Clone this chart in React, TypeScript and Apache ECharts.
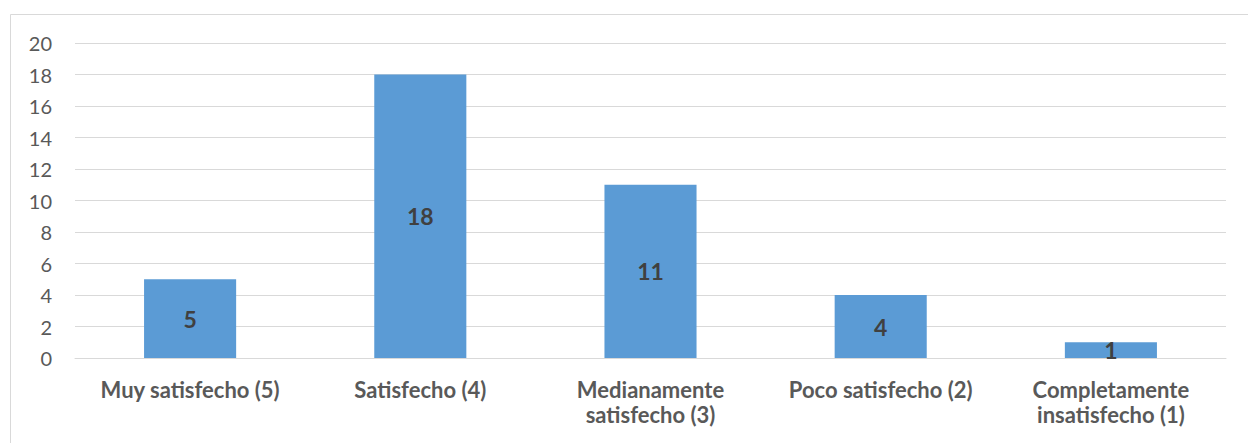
import React, { useEffect, useRef } from "react";
import * as echarts from "echarts";

const categories = [
  "Muy satisfecho (5)",
  "Satisfecho (4)",
  "Medianamente\nsatisfecho (3)",
  "Poco satisfecho (2)",
  "Completamente\ninsatisfecho (1)",
];
const values = [5, 18, 11, 4, 1];
const yTicks = { min: 0, max: 20, interval: 2 };

const FONT = "Lato, 'Open Sans', sans-serif";

export default function App() {
  const ref = useRef<HTMLDivElement>(null);
  useEffect(() => {
    if (!ref.current) return;
    const chart = echarts.init(ref.current, null, { renderer: "svg" });
    chart.setOption({
      animation: false,
      backgroundColor: "#ffffff",
      graphic: [
        {
          type: "rect",
          shape: { x: 10.5, y: 14.5, width: 1250, height: 440 },
          style: { fill: "none", stroke: "#d9d9d9", lineWidth: 1 },
          silent: true,
        },
      ],
      grid: { left: 75, right: 22, top: 43, bottom: 85 },
      xAxis: {
        type: "category",
        data: categories,
        axisLine: { show: true, lineStyle: { color: "#d9d9d9", width: 1 } },
        axisTick: { show: false },
        axisLabel: {
          color: "#595959",
          fontFamily: FONT,
          fontWeight: "bold",
          fontSize: 22,
          lineHeight: 25,
          margin: 19,
          interval: 0,
        },
      },
      yAxis: {
        type: "value",
        min: yTicks.min,
        max: yTicks.max,
        interval: yTicks.interval,
        axisLine: { show: false },
        axisTick: { show: false },
        splitLine: { lineStyle: { color: "#d9d9d9", width: 1 } },
        axisLabel: {
          color: "#595959",
          fontFamily: FONT,
          fontSize: 20,
          margin: 23,
        },
      },
      series: [
        {
          type: "bar",
          data: values,
          barWidth: "40%",
          itemStyle: { color: "#5b9bd5" },
          label: {
            show: true,
            position: "inside",
            color: "#404040",
            fontFamily: FONT,
            fontWeight: "bold",
            fontSize: 23,
          },
        },
      ],
    });
    return () => chart.dispose();
  }, []);
  return (
    <div
      ref={ref}
      style={{ position: "absolute", left: 0, top: 0, width: 1248, height: 443 }}
    />
  );
}
